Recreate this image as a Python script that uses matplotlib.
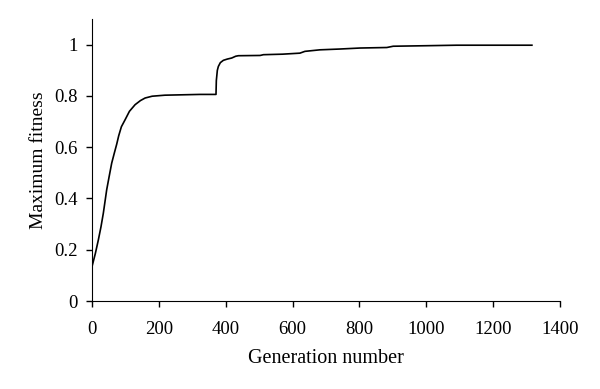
import matplotlib
matplotlib.use("Agg")
import matplotlib.pyplot as plt

# Maximum fitness per generation
generation = [0, 0, 10, 19, 27, 34, 44, 52, 59, 67, 74, 80, 88, 99, 112, 129,
              145, 159, 180, 218, 253, 323, 371, 372, 375, 378, 384, 393, 405,
              418, 430, 438, 503, 513, 570, 622, 637, 682, 740, 802, 882, 901,
              1000, 1091, 1316]
max_fitness = [0, 0.134, 0.185, 0.238, 0.29, 0.343, 0.434, 0.49, 0.538, 0.578,
               0.612, 0.645, 0.68, 0.707, 0.74, 0.766, 0.782, 0.792, 0.799,
               0.803, 0.804, 0.806, 0.806, 0.86, 0.9, 0.915, 0.93, 0.939,
               0.944, 0.948, 0.955, 0.957, 0.958, 0.961, 0.963, 0.967, 0.974,
               0.980, 0.983, 0.987, 0.989, 0.994, 0.996, 0.998, 0.998]

plt.rcParams["font.family"] = "Liberation Serif"

fig = plt.figure(figsize=(6, 3.89), dpi=100)
ax = fig.add_axes([0.1533, 0.2262, 0.78, 0.7248])
ax.plot(generation, max_fitness, color="black", lw=1.2)

ax.spines["top"].set_visible(False)
ax.spines["right"].set_visible(False)
ax.set_xlim(0, 1400)
ax.set_ylim(0, 1.1)
ax.set_xticks(range(0, 1401, 200))
ax.set_yticks([0, 0.2, 0.4, 0.6, 0.8, 1])
ax.set_yticklabels(["0", "0.2", "0.4", "0.6", "0.8", "1"])
ax.tick_params(labelsize=13.5, length=4.5, width=1)
ax.tick_params(axis="x", pad=10)
ax.tick_params(axis="y", pad=6)
ax.set_xlabel("Generation number", fontsize=14.5, labelpad=8)
ax.set_ylabel("Maximum fitness", fontsize=14, labelpad=5)

fig.savefig("out.png", dpi=100)
